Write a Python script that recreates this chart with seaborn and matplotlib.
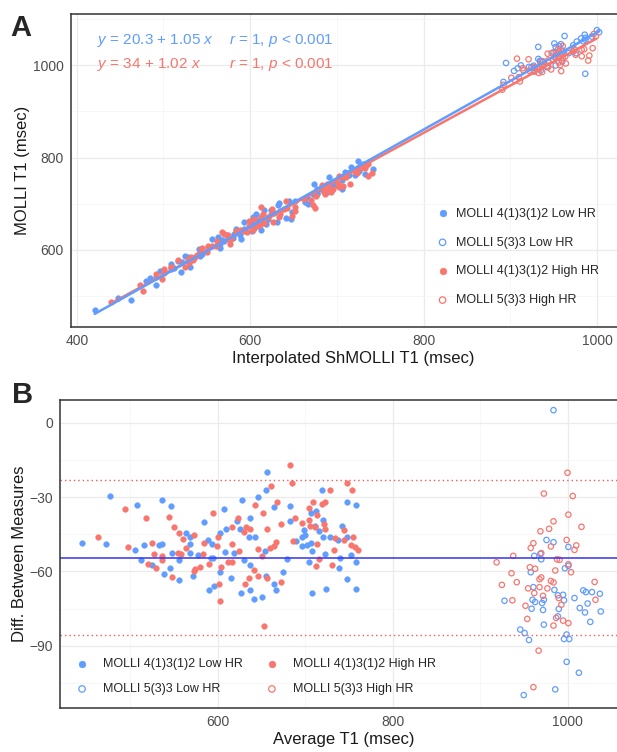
import matplotlib
matplotlib.use("Agg")
import matplotlib.pyplot as plt
from matplotlib.ticker import MultipleLocator
import numpy as np
import pandas as pd
import seaborn as sns

# ---- data (average T1, ShMOLLI - MOLLI difference) ----
low_412_avg = [477, 445, 472, 508, 536, 547, 506, 516, 533, 537, 512, 525, 546, 548, 556,
               564, 568, 569, 569, 585, 607, 610, 578, 589, 594, 595, 603, 592,
               539, 556, 572, 590, 596, 603,
               657, 628, 646, 655, 665, 683, 719, 748, 758, 622, 637, 626, 636, 643, 683,
               707, 712, 720, 711, 716, 699, 700, 697, 690, 697, 702, 707, 708, 721, 729,
               738, 742, 748, 752, 758, 723, 740, 705, 679, 654, 630, 619, 608, 637,
               615, 627, 637, 642, 651, 655, 665, 667, 675, 708, 724, 739, 748, 758]
low_412_diff = [-29.6, -48.6, -49.0, -33.1, -31.2, -33.6, -51.3, -49.5, -49.5, -49.0, -55.4,
                -57.3, -58.6, -52.6, -55.5, -44.6, -46.2, -49.0, -52.6, -40.2, -34.8, -42.8,
                -53.3, -47.3, -48.9, -54.5, -44.6, -54.6,
                -61.0, -63.3, -61.9, -67.6, -65.9, -60.3,
                -19.8, -31.2, -30.0, -27.3, -34.0, -33.6, -27.3, -32.1, -33.1, -39.8, -38.4,
                -43.0, -46.2, -45.9, -39.6, -36.5, -35.6, -39.2, -41.5, -43.6, -43.2, -45.2,
                -46.2, -47.8, -49.9, -49.4, -48.6, -51.8, -45.9, -45.9, -47.3, -41.5, -45.9,
                -53.4, -56.0, -52.9, -54.5, -56.0, -54.8, -51.9, -55.3, -52.6, -52.3, -57.3,
                -62.7, -68.8, -67.3, -71.1, -70.3, -61.7, -64.9, -67.6, -60.1, -68.6, -67.2,
                -58.6, -63.2, -67.2]

high_412_avg = [463, 494, 518, 498, 525, 544, 550, 556, 560, 573, 564, 527, 536, 555, 558,
                520, 530, 536, 595, 601, 585, 599, 583, 590, 574,
                548, 573, 580,
                683, 685, 661, 748, 754, 729, 668, 643, 723, 719, 709, 704, 714, 652, 689,
                672, 656, 623, 617, 633, 637, 630, 696, 705, 706, 722, 711, 723, 745, 734,
                745, 755, 752, 757, 761, 686, 714, 667, 664, 660, 646, 617, 625, 651, 716,
                733, 616, 612, 604, 731, 712,
                603, 602, 631, 636, 642, 646, 657, 673, 653]
high_412_diff = [-46.3, -34.8, -38.4, -50.3, -48.6, -38.0, -42.0, -44.3, -47.1, -45.1, -50.5,
                 -53.0, -53.7, -52.6, -53.0, -56.9, -58.6, -55.3, -36.3, -45.9, -48.6, -49.9,
                 -53.0, -57.0, -59.0,
                 -62.3, -59.6, -58.2,
                 -17.1, -24.4, -25.7, -24.4, -27.3, -27.3, -32.1, -33.1, -32.1, -32.7, -32.1,
                 -34.4, -37.1, -36.5, -38.3, -41.0, -42.8, -38.6, -41.9, -42.2, -43.0, -43.9,
                 -40.6, -39.4, -41.6, -41.0, -42.0, -42.8, -43.2, -46.5, -47.3, -46.2, -49.4,
                 -50.2, -51.3, -47.7, -48.9, -48.2, -49.9, -50.7, -51.1, -48.9, -51.9, -53.8,
                 -54.8, -51.5, -56.0, -56.2, -58.0, -57.3, -57.7,
                 -71.9, -64.9, -64.9, -62.7, -59.2, -61.7, -62.7, -64.4, -81.8]

low_533_avg = [984, 976, 984, 1001, 962, 969, 970, 958, 997, 1001, 961, 985, 928, 960, 963,
               973, 971, 989, 995, 996, 959, 972, 990, 989, 1008, 1018, 1021, 1028, 1037,
               1023, 1014, 1020, 1038, 1026, 973, 946, 951, 956, 999, 996, 1002, 999, 1013,
               950, 986]
low_533_diff = [5.0, -47.3, -48.2, -50.1, -53.7, -52.9, -55.1, -60.3, -58.7, -57.7, -66.3,
                -67.4, -71.8, -71.4, -72.3, -71.4, -72.7, -69.6, -69.4, -71.6, -75.0, -75.5,
                -75.1, -78.1, -70.7, -67.6, -68.3, -68.3, -69.0, -72.9, -74.7, -76.5, -76.1,
                -80.3, -81.4, -83.4, -84.8, -87.6, -85.4, -87.2, -87.2, -96.4, -100.8,
                -109.8, -107.5]

high_533_avg = [1000, 973, 1006, 1001, 984, 1016, 979, 969, 999, 1010, 961, 958, 981, 1008,
                938, 919, 957, 963, 936, 925, 942, 968, 970, 986, 988, 991, 1001, 1004, 981,
                984, 977, 955, 962, 968, 972, 937, 952, 990, 993, 987, 995, 1001, 984, 954,
                1031, 1032, 967, 961, 970]
high_533_diff = [-20.2, -28.6, -29.6, -37.1, -39.8, -42.0, -42.8, -43.8, -47.3, -49.5, -48.6,
                 -50.5, -49.9, -51.3, -53.7, -56.3, -58.3, -58.9, -60.7, -65.4, -64.3, -63.1,
                 -62.4, -59.6, -55.1, -55.3, -57.1, -60.3, -63.8, -64.4, -66.8, -66.8, -68.7,
                 -66.3, -69.8, -71.6, -73.8, -70.7, -73.4, -78.7, -79.8, -80.8, -81.8, -79.1,
                 -64.2, -71.4, -91.9, -106.6, -52.6]

bias = -54.4
loa_upper = -23.3
loa_lower = -85.4

BLUE = "#619CFF"
RED = "#F8766D"


def make_group(avg, diff, label, color, filled, hr):
    d = pd.DataFrame({"avg": avg, "diff": diff})
    d["shmolli"] = d["avg"] + d["diff"] / 2
    d["molli"] = d["avg"] - d["diff"] / 2
    d["label"] = label
    d["color"] = color
    d["filled"] = filled
    d["hr"] = hr
    return d


groups = [
    make_group(low_412_avg, low_412_diff, "MOLLI 4(1)3(1)2 Low HR", BLUE, True, "Low"),
    make_group(low_533_avg, low_533_diff, "MOLLI 5(3)3 Low HR", BLUE, False, "Low"),
    make_group(high_412_avg, high_412_diff, "MOLLI 4(1)3(1)2 High HR", RED, True, "High"),
    make_group(high_533_avg, high_533_diff, "MOLLI 5(3)3 High HR", RED, False, "High"),
]
df = pd.concat(groups, ignore_index=True)

sns.set_theme(style="white")
plt.rcParams["font.family"] = ["Liberation Sans", "DejaVu Sans"]
plt.rcParams["mathtext.fontset"] = "custom"
plt.rcParams["mathtext.it"] = "Liberation Sans:italic"
plt.rcParams["mathtext.rm"] = "Liberation Sans"

W, H = 617, 752
fig = plt.figure(figsize=(W / 100, H / 100), dpi=100)


def px_axes(left, top, right, bottom):
    return fig.add_axes([left / W, 1 - bottom / H, (right - left) / W, (bottom - top) / H])


def style_axes(ax, xmaj, ymaj):
    ax.xaxis.set_major_locator(MultipleLocator(xmaj))
    ax.xaxis.set_minor_locator(MultipleLocator(xmaj / 2))
    ax.yaxis.set_major_locator(MultipleLocator(ymaj))
    ax.yaxis.set_minor_locator(MultipleLocator(ymaj / 2))
    ax.grid(True, which="major", color="#EBEBEB", lw=0.9)
    ax.grid(True, which="minor", color="#F4F4F4", lw=0.5)
    ax.set_axisbelow(True)
    for s in ax.spines.values():
        s.set_color("#333333")
        s.set_linewidth(1.1)
    ax.tick_params(which="major", length=3, width=0.8, color="#333333",
                   labelsize=10, labelcolor="#4D4D4D", pad=2)
    ax.tick_params(which="minor", length=0)


def draw_points(ax, x, y):
    for g in groups:
        d = df[df["label"] == g["label"].iloc[0]]
        c = d["color"].iloc[0]
        if d["filled"].iloc[0]:
            sns.scatterplot(data=d, x=x, y=y, ax=ax, color=c, edgecolor=c, s=17,
                            linewidth=0.3, label=d["label"].iloc[0], legend=False)
        else:
            sns.scatterplot(data=d, x=x, y=y, ax=ax, color=c, edgecolor=c, facecolor="none",
                            s=15, linewidth=0.9, label=d["label"].iloc[0], legend=False)


# ---- panel A (axes run a little past the right edge of the image) ----
axA = px_axes(70.7, 14, 636, 327)
draw_points(axA, "shmolli", "molli")
for hr, c in [("High", RED), ("Low", BLUE)]:
    sns.regplot(data=df[df["hr"] == hr], x="shmolli", y="molli", ax=axA, scatter=False,
                ci=None, color=c, line_kws={"lw": 1.8})
axA.set_xlim(393, 1045)
axA.set_ylim(433, 1111)
style_axes(axA, 200, 200)
axA.set_xlabel("Interpolated ShMOLLI T1 (msec)", fontsize=12, color="#1A1A1A", labelpad=2)
axA.set_ylabel("MOLLI T1 (msec)", fontsize=12, color="#1A1A1A", labelpad=2)
tr = axA.transAxes
axA.text(26.3 / 565.3, 0.914, r"$y$ = 20.3 + 1.05 $x$", transform=tr, color=BLUE,
         fontsize=11, va="center")
axA.text(158 / 565.3, 0.914, r"$r$ = 1, $p$ < 0.001", transform=tr, color=BLUE,
         fontsize=11, va="center")
axA.text(26.3 / 565.3, 0.840, r"$y$ = 34 + 1.02 $x$", transform=tr, color=RED,
         fontsize=11, va="center")
axA.text(158 / 565.3, 0.840, r"$r$ = 1, $p$ < 0.001", transform=tr, color=RED,
         fontsize=11, va="center")
axA.legend(loc="lower right", bbox_to_anchor=(0.955, 0.03), frameon=False, fontsize=9,
           labelspacing=1.35, handletextpad=0.6, handlelength=1.0, markerscale=1.2)

# ---- panel B ----
axB = px_axes(60, 399.5, 627, 708)
draw_points(axB, "avg", "diff")
axB.axhline(bias, color="#3434F0", lw=1.1)
axB.axhline(loa_upper, color="#F25A5A", lw=1.0, ls=(0, (1, 2.2)))
axB.axhline(loa_lower, color="#F25A5A", lw=1.0, ls=(0, (1, 2.2)))
axB.set_xlim(420, 1068)
axB.set_ylim(-115, 9.3)
style_axes(axB, 200, 30)
axB.set_xlabel("Average T1 (msec)", fontsize=12, color="#1A1A1A", labelpad=2)
axB.set_ylabel("Diff. Between Measures", fontsize=12, color="#1A1A1A", labelpad=2)
axB.legend(loc="lower left", bbox_to_anchor=(0.008, 0.005), ncol=2, frameon=False, fontsize=9,
           labelspacing=1.05, handletextpad=1.2, handlelength=1.0, markerscale=1.2,
           columnspacing=1.8)

fig.text(10 / W, 1 - 36 / H, "A", fontsize=21, fontweight="bold", va="baseline")
fig.text(12 / W, 1 - 403 / H, "B", fontsize=21, fontweight="bold", va="baseline")

fig.savefig("out.png", dpi=100)
